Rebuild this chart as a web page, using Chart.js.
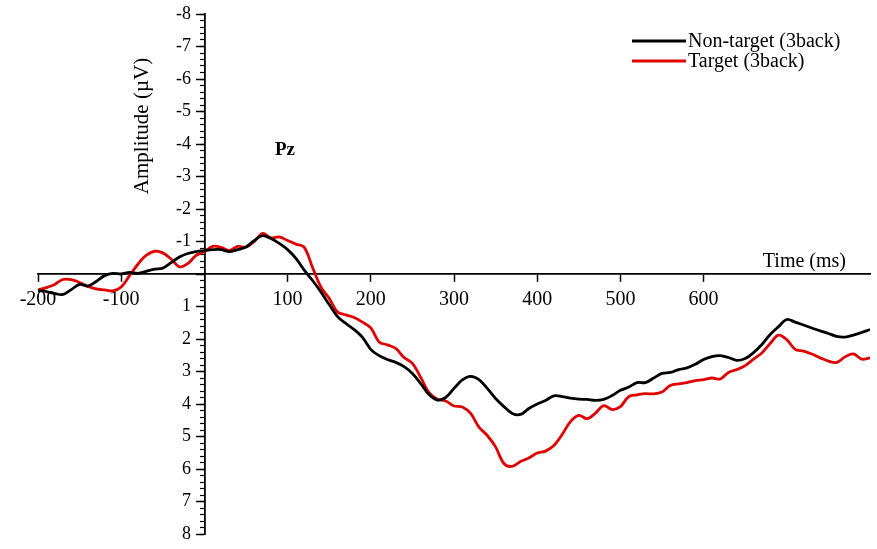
<!DOCTYPE html>
<html>
<head>
<meta charset="utf-8">
<script src="https://cdn.jsdelivr.net/npm/chart.js@4.4.0/dist/chart.umd.min.js"></script>
<style>
  html, body { margin: 0; padding: 0; background: #fff; }
  #wrap { width: 877px; height: 549px; }
</style>
</head>
<body>
<div id="wrap"><canvas id="chart" width="877" height="549"></canvas></div>
<script>
// time (ms) of each sample
const times = [
  -200, -190, -180, -170, -160, -150, -140, -130, -120, -110,
  -100, -90, -80, -70, -60, -50, -40, -30, -20, -10,
  0, 10, 20, 30, 40, 50, 60, 70, 80, 90,
  100, 110, 120, 130, 140, 150, 160, 170, 180, 190,
  200, 210, 220, 230, 240, 250, 260, 270, 280, 290,
  300, 310, 320, 330, 340, 350, 360, 370, 380, 390,
  400, 410, 420, 430, 440, 450, 460, 470, 480, 490,
  500, 510, 520, 530, 540, 550, 560, 570, 580, 590,
  600, 610, 620, 630, 640, 650, 660, 670, 680, 690,
  700, 710, 720, 730, 740, 750, 760, 770, 780, 790,
  800
];

// amplitude (uV), Non-target (3back)
const nonTarget = [
  0.51, 0.54, 0.60, 0.63, 0.48, 0.32, 0.37, 0.23, 0.05, -0.02,
  0.00, -0.05, -0.02, -0.08, -0.15, -0.18, -0.35, -0.52, -0.63, -0.69,
  -0.72, -0.75, -0.75, -0.69, -0.75, -0.83, -1.03, -1.18, -1.09, -0.94,
  -0.75, -0.48, -0.12, 0.20, 0.55, 0.94, 1.31, 1.52, 1.71, 1.95,
  2.32, 2.51, 2.63, 2.72, 2.85, 3.06, 3.37, 3.71, 3.88, 3.80,
  3.52, 3.26, 3.15, 3.25, 3.52, 3.83, 4.08, 4.29, 4.32, 4.14,
  4.00, 3.89, 3.75, 3.77, 3.82, 3.85, 3.86, 3.89, 3.86, 3.74,
  3.58, 3.48, 3.34, 3.34, 3.20, 3.06, 3.03, 2.94, 2.89, 2.78,
  2.63, 2.54, 2.51, 2.57, 2.66, 2.60, 2.42, 2.17, 1.86, 1.62,
  1.40, 1.48, 1.57, 1.66, 1.75, 1.83, 1.92, 1.94, 1.88, 1.80,
  1.71
];

// amplitude (uV), Target (3back)
const target = [
  0.49, 0.42, 0.32, 0.17, 0.17, 0.26, 0.38, 0.46, 0.49, 0.52,
  0.40, 0.05, -0.30, -0.57, -0.70, -0.65, -0.46, -0.22, -0.32, -0.57,
  -0.69, -0.85, -0.82, -0.72, -0.85, -0.83, -1.00, -1.25, -1.11, -1.14,
  -1.03, -0.92, -0.82, -0.20, 0.40, 0.75, 1.17, 1.26, 1.34, 1.48,
  1.66, 2.09, 2.18, 2.29, 2.57, 2.75, 3.18, 3.65, 3.85, 3.91,
  4.06, 4.09, 4.29, 4.71, 4.97, 5.32, 5.83, 5.92, 5.77, 5.66,
  5.51, 5.45, 5.28, 4.94, 4.54, 4.35, 4.45, 4.28, 4.05, 4.17,
  4.08, 3.77, 3.72, 3.68, 3.69, 3.63, 3.43, 3.38, 3.34, 3.28,
  3.25, 3.20, 3.23, 3.03, 2.94, 2.82, 2.62, 2.43, 2.14, 1.88,
  2.02, 2.32, 2.37, 2.46, 2.58, 2.68, 2.72, 2.55, 2.46, 2.62,
  2.58
];

const xTickLabels = [-200, -100, 100, 200, 300, 400, 500, 600];
const seriesNames = ['Non-target (3back)', 'Target (3back)'];
const seriesColors = ['#000000', '#e10000'];

const serif = '"Liberation Serif", "Times New Roman", serif';

// titles, channel name and the small legend box at top right
const annotations = {
    id: 'annotations',
    afterDraw(chart) {
        const ctx = chart.ctx;
        const xs = chart.scales.x;
        const ys = chart.scales.y;
        const x0 = xs.getPixelForValue(0);
        const y0 = ys.getPixelForValue(0);
        ctx.save();
        ctx.fillStyle = '#000';

        ctx.font = '20px ' + serif;
        ctx.textAlign = 'right';
        ctx.textBaseline = 'alphabetic';
        ctx.fillText('Time (ms)', xs.right - 24, y0 - 7);

        ctx.save();
        ctx.font = '21px ' + serif;
        ctx.translate(x0 - 62, 126);
        ctx.rotate(-Math.PI / 2);
        ctx.textAlign = 'center';
        ctx.textBaseline = 'middle';
        ctx.fillText('Amplitude (\u00b5V)', 0, 0);
        ctx.restore();

        ctx.font = 'bold 19px ' + serif;
        ctx.textAlign = 'left';
        ctx.textBaseline = 'middle';
        ctx.fillText('Pz', 275, 150);

        ctx.font = '20px ' + serif;
        chart.data.datasets.forEach((ds, i) => {
            const y = 41 + i * 20;
            ctx.strokeStyle = ds.borderColor;
            ctx.lineWidth = 3;
            ctx.beginPath();
            ctx.moveTo(632, y);
            ctx.lineTo(686, y);
            ctx.stroke();
            ctx.fillText(ds.label, 688, y + 1);
        });
        ctx.restore();
    }
};

new Chart(document.getElementById('chart'), {
    type: 'line',
    data: {
        datasets: [nonTarget, target].map((vals, i) => ({
            label: seriesNames[i],
            data: times.map((t, j) => ({x: t, y: vals[j]})),
            borderColor: seriesColors[i],
            backgroundColor: seriesColors[i],
            fill: false
        }))
    },
    options: {
        responsive: false,
        animation: false,
        layout: {padding: {left: 38, right: 5, top: 14, bottom: 15}},
        elements: {
            point: {radius: 0},
            line: {borderWidth: 2.8, tension: 0.35}
        },
        plugins: {
            legend: {display: false},
            tooltip: {enabled: false}
        },
        scales: {
            x: {
                type: 'linear',
                min: -200,
                max: 800,
                position: {y: 0},
                ticks: {
                    stepSize: 100,
                    autoSkip: false,
                    maxRotation: 0,
                    padding: 7,
                    color: '#000',
                    font: {family: serif, size: 20},
                    callback: v => xTickLabels.includes(v) ? String(v) : ''
                },
                grid: {
                    drawOnChartArea: false,
                    tickLength: 7,
                    tickWidth: 1.5,
                    tickColor: c => (c.tick && xTickLabels.includes(c.tick.value)) ? '#000' : 'rgba(0,0,0,0)'
                },
                border: {color: '#000', width: 1.8}
            },
            y: {
                type: 'linear',
                min: -8,
                max: 8,
                reverse: true,
                position: {x: 0},
                ticks: {
                    stepSize: 1,
                    autoSkip: false,
                    color: '#000',
                    font: {family: serif, size: 18},
                    // centred axes put the label flush on the axis line, the spaces push it left
                    callback: v => v === 0 ? '' : String(v) + '   '
                },
                grid: {drawOnChartArea: false, tickLength: 8, tickWidth: 1.5, tickColor: '#000'},
                border: {color: '#000', width: 1.8}
            },
            yMinor: {
                type: 'linear',
                axis: 'y',
                min: -8,
                max: 8,
                reverse: true,
                position: {x: 0},
                ticks: {stepSize: 0.2, display: false},
                grid: {drawOnChartArea: false, tickLength: 4, tickWidth: 1.2, tickColor: '#000'},
                border: {display: false}
            }
        }
    },
    plugins: [annotations]
});
</script>
</body>
</html>
